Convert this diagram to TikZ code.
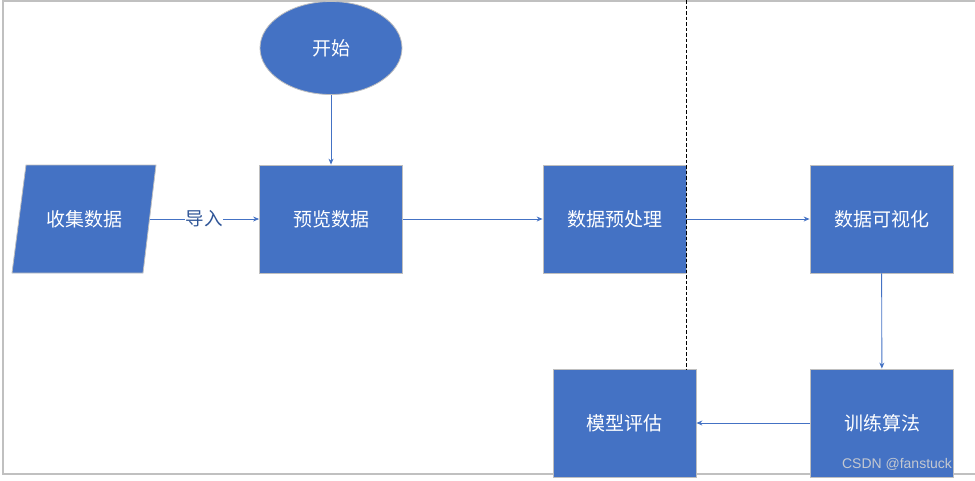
\documentclass[tikz,border=0pt]{standalone}
\usepackage{fontspec}
\setsansfont{Liberation Sans}
\newfontfamily\cjkfont{Noto Sans CJK SC}
\usepackage{tikz}
\usetikzlibrary{arrows.meta,positioning,shapes.geometric}
\definecolor{officeblue}{RGB}{68,114,196}
\definecolor{edgegrey}{RGB}{191,191,191}
\definecolor{framegrey}{RGB}{192,192,192}
\definecolor{labelnavy}{RGB}{47,85,151}
\definecolor{markgrey}{RGB}{210,210,210}
\tikzset{
  base/.style={font=\cjkfont\fontsize{19}{22}\selectfont, align=center, inner sep=0pt, text=white},
  box/.style={base, rectangle, draw=edgegrey, fill=officeblue, line width=0.8pt, minimum width=143pt, minimum height=108pt},
  io/.style={base, rectangle, minimum width=131pt, minimum height=108pt},
  iobody/.style={draw=edgegrey, fill=officeblue, line width=0.8pt},
  term/.style={base, ellipse, draw=edgegrey, fill=officeblue, line width=0.8pt, minimum width=142pt, minimum height=93pt},
  arr/.style={-{Stealth[length=6pt,width=5pt]}, line width=0.9pt, draw=officeblue},
  lbl/.style={font=\cjkfont\fontsize{18.5}{20}\selectfont, text=labelnavy, inner sep=0.5pt, fill=white},
  sep/.style={dash pattern=on 3.5pt off 2pt, line width=0.8pt, draw=black},
  frame/.style={line width=1.2pt, draw=framegrey},
}
\begin{document}
\begin{tikzpicture}[x=1pt,y=-1pt]
  \useasboundingbox (0,0) rectangle (975,480);
  \draw[frame] (975,1) -- (3,1) -- (3,474) -- (975,474);
  % input parallelogram
  \draw[iobody] (12,273) -- (143,273) -- (156,165) -- (26,165) -- cycle;
  % flow blocks
  \node[term] (start) at (331,48) {开始};
  \node[io] (collect) at (84,219) {收集数据};
  \node[box] (preview) at (331,219) {预览数据};
  \node[box] (prep) at (614.5,219) {数据预处理};
  \node[box] (vis) at (881.5,219) {数据可视化};
  \node[box] (train) at (882,423) {训练算法};
  \node[box] (eval) at (624.5,423) {模型评估};
  % divider
  \coordinate (septop) at (686,0);
  \draw[sep] (septop) -- (septop |- eval.north);
  % connectors
  \draw[arr] (start) -- (preview);
  \draw[arr] (collect) -- node[lbl]{导入} (preview);
  \draw[arr] (preview) -- (prep);
  \draw[arr] (prep) -- (vis);
  \draw[arr] (vis) -- (train);
  \draw[arr] (train) -- (eval);
  \node[font=\sffamily\fontsize{14}{16}\selectfont, text=markgrey, opacity=0.9, inner sep=0pt] (mark) at (897,464) {CSDN @fanstuck};
\end{tikzpicture}
\end{document}
